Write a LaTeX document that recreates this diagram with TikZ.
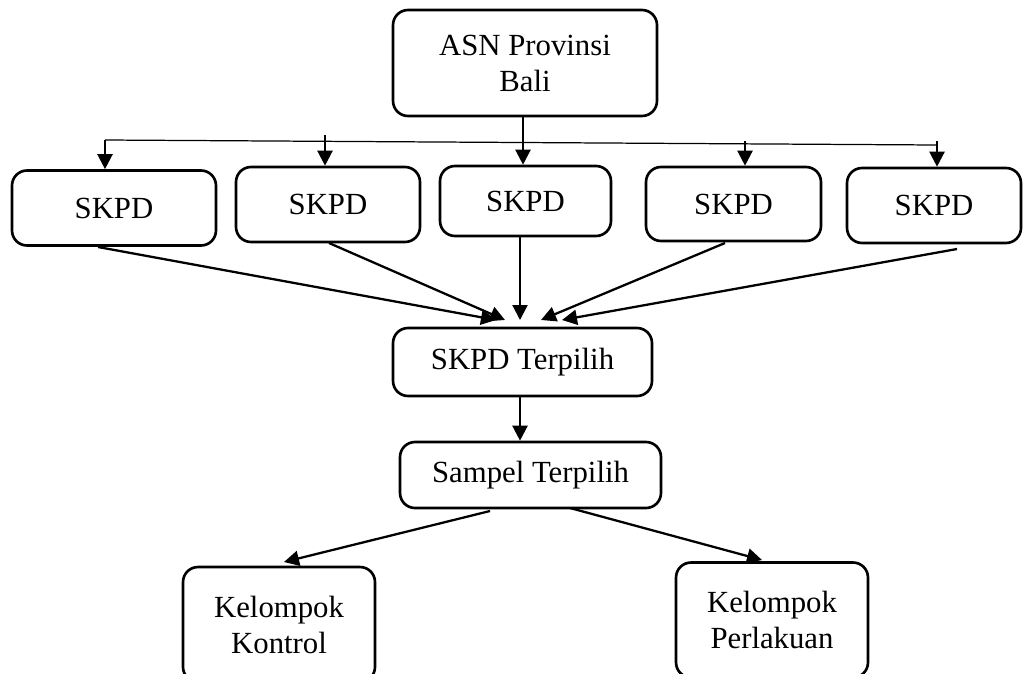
\documentclass[tikz,border=0pt]{standalone}
\usepackage{fontspec}
\setmainfont{Liberation Serif}
\usetikzlibrary{arrows.meta}

\tikzset{
    kotak/.style={draw, line width=1.5pt, rounded corners=0.3cm, align=center,
        font=\fontsize{17.5}{20.5}\selectfont, inner sep=0pt},
    panah/.style={line width=1.3pt, -{Triangle[length=0.3cm, width=0.3cm]}},
}

\begin{document}
\begin{tikzpicture}[x=0.02cm, y=-0.02cm]
            \clip (0,0) rectangle (1023,673);

            % puncak
            \node[kotak, minimum width=5.28cm, minimum height=2.12cm] (asn) at (525,63) {ASN Provinsi\\Bali};

            % baris SKPD
            \node[kotak, minimum width=4.08cm, minimum height=1.5cm] (s1) at (114,208) {SKPD};
            \node[kotak, minimum width=3.68cm, minimum height=1.5cm] (s2) at (328,204.5) {SKPD};
            \node[kotak, minimum width=3.42cm, minimum height=1.4cm] (s3) at (525.5,201) {SKPD};
            \node[kotak, minimum width=3.5cm, minimum height=1.48cm] (s4) at (733.5,204) {SKPD};
            \node[kotak, minimum width=3.48cm, minimum height=1.5cm] (s5) at (934,205.5) {SKPD};

            % garis cabang
            \coordinate (h1) at (105,140);
            \coordinate (h5) at (937,145);
            \coordinate (t2) at (325,135);
            \coordinate (t4) at (745,141);
            \coordinate (t5) at (937,141);

            \draw[line width=0.7pt] (h1)--(h5);
            \draw[panah] (h1)--(h1 |- s1.north);
            \draw[panah] (t2)--(t2 |- s2.north);
            \draw[panah] (asn.south -| 523,0)--(s3.north -| 523,0);
            \draw[panah] (t4)--(t4 |- s4.north);
            \draw[panah] (t5)--(t5 |- s5.north);

            % hasil pilihan
            \node[kotak, minimum width=5.18cm, minimum height=1.36cm] (terpilih) at (522.5,362) {SKPD Terpilih};
            \node[kotak, minimum width=5.22cm, minimum height=1.32cm] (sampel) at (530.5,475) {Sampel Terpilih};

            \coordinate (m1) at (496,320);
            \coordinate (m2) at (505,320);
            \coordinate (m3) at (520,320);
            \coordinate (m4) at (541,320);
            \coordinate (m5) at (562,320);

            \draw[panah] (98,247)--(m1);
            \draw[panah] (329,243)--(m2);
            \draw[panah] (s3.south -| m3)--(m3);
            \draw[panah] (725,243)--(m4);
            \draw[panah] (957,249)--(m5);

            \draw[panah] (terpilih.south -| 520,0)--(sampel.north -| 520,0);

            % kelompok
            \node[kotak, minimum width=3.84cm, minimum height=2.3cm] (kontrol) at (279,624.5) {Kelompok\\Kontrol};
            \node[kotak, minimum width=3.84cm, minimum height=2.3cm] (perlakuan) at (772,620) {Kelompok\\Perlakuan};

            \draw[panah] (490,511)--(284,562);
            \draw[panah] (570,508)--(762,560);
        \end{tikzpicture}
\end{document}
